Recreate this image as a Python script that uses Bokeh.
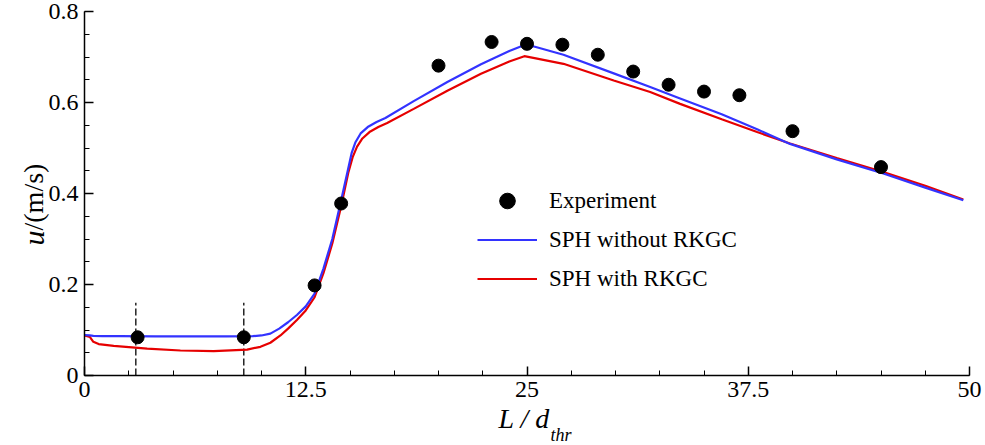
from math import pi

import numpy as np
from bokeh.embed import file_html
from bokeh.models import (CustomJSTickFormatter, FixedTicker, Label, Legend,
                          LegendItem, LinearAxis, Range1d)
from bokeh.plotting import figure
from bokeh.resources import INLINE

# Measured velocity (experiment)
exp_x = [3.0, 9.0, 13.0, 14.5, 20.0, 23.0, 25.0, 27.0, 29.0, 31.0, 33.0, 35.0, 37.0, 40.0, 45.0]
exp_y = [0.084, 0.084, 0.198, 0.378, 0.681, 0.733, 0.729, 0.727, 0.705, 0.668,
         0.639, 0.624, 0.616, 0.537, 0.458]

# SPH without RKGC
blue_x = [0.0, 0.3, 0.5, 1.0, 2.0, 4.0, 6.0, 8.0, 9.5, 10.0, 10.5, 11.0, 11.5, 12.0,
          12.5, 13.0, 13.5, 14.0, 14.5, 14.9, 15.1, 15.3, 15.6, 16.0, 16.5, 17.0,
          18.6, 20.5, 22.4, 24.0, 24.93, 25.5, 27.06, 29.9, 31.96, 33.65, 36.0,
          38.0, 39.86, 42.5, 45.13, 47.5, 49.65]
blue_y = [0.089, 0.088, 0.087, 0.0865, 0.0865, 0.086, 0.0858, 0.0858, 0.0865, 0.088,
          0.092, 0.103, 0.117, 0.133, 0.152, 0.18, 0.235, 0.30, 0.385, 0.455, 0.49,
          0.512, 0.532, 0.546, 0.557, 0.566, 0.603, 0.645, 0.684, 0.713, 0.7275,
          0.722, 0.705, 0.664, 0.634, 0.609, 0.574, 0.541, 0.509, 0.475, 0.444,
          0.413, 0.385]

# SPH with RKGC
red_x = [0.0, 0.3, 0.5, 0.8, 1.65, 3.54, 5.42, 7.3, 9.19, 9.94, 10.5, 11.07, 11.5,
         12.0, 12.5, 13.0, 13.5, 14.0, 14.5, 14.9, 15.15, 15.4, 15.7, 16.1, 16.6,
         17.1, 18.6, 20.5, 22.4, 24.0, 24.85, 25.5, 27.06, 29.9, 31.96, 33.65,
         36.0, 38.0, 39.86, 42.5, 45.13, 47.5, 49.65]
red_y = [0.088, 0.085, 0.074, 0.069, 0.065, 0.059, 0.055, 0.0534, 0.057, 0.063,
         0.072, 0.088, 0.103, 0.122, 0.143, 0.172, 0.225, 0.29, 0.372, 0.445,
         0.48, 0.503, 0.521, 0.535, 0.546, 0.555, 0.586, 0.626, 0.663, 0.690,
         0.7018, 0.697, 0.685, 0.6485, 0.623, 0.597, 0.563, 0.535, 0.510, 0.478,
         0.447, 0.417, 0.387]

# Dashed markers of the probe section
probe_x = [2.9, 9.0]
probe_top = [0.16, 0.16]

x_ticks = [0, 12.5, 25, 37.5, 50]
x_tick_labels = ["0", "12.5", "25", "37.5", "50"]
y_ticks = [0, 0.2, 0.4, 0.6, 0.8]
y_tick_labels = ["0", "0.2", "0.4", "0.6", "0.8"]

SERIF = "Liberation Serif"
BLUE = "#3333ff"
RED = "#e60000"

W, H = 985, 445
PAD_L, PAD_R, PAD_T, PAD_B = 84, 16, 11, 70   # room around the 0..50 x 0..0.8 box
X0, X1, Y0, Y1 = 0.0, 50.0, 0.0, 0.8
sx = (W - PAD_L - PAD_R) / (X1 - X0)
sy = (H - PAD_T - PAD_B) / (Y1 - Y0)

# The frame fills the whole canvas so that the axis titles are not clipped;
# the axes are pinned to x=0 / y=0 and bounded to the data box.
p = figure(width=W, height=H, output_backend="svg", toolbar_location=None,
           x_range=Range1d(X0 - PAD_L / sx, X1 + PAD_R / sx),
           y_range=Range1d(Y0 - PAD_B / sy, Y1 + PAD_T / sy),
           x_axis_location=None, y_axis_location=None,
           min_border_left=0, min_border_right=0, min_border_top=0,
           min_border_bottom=0)
p.outline_line_color = None
p.grid.visible = False
p.background_fill_color = "white"

label_js = """
for (let i = 0; i < tv.length; i++) {
  if (Math.abs(tv[i] - tick) < 1e-9) return tl[i];
}
return "";
"""

xaxis = LinearAxis(fixed_location=Y0, bounds=(X0, X1))
yaxis = LinearAxis(fixed_location=X0, bounds=(Y0, Y1))
for ax, ticks, labels, minor in (
        (xaxis, x_ticks, x_tick_labels, list(np.arange(0, 50.01, 2.5))),
        (yaxis, y_ticks, y_tick_labels, list(np.arange(0, 0.8001, 0.05)))):
    ax.ticker = FixedTicker(ticks=ticks, minor_ticks=minor)
    ax.formatter = CustomJSTickFormatter(args=dict(tv=ticks, tl=labels), code=label_js)
    ax.axis_line_width = 1.5
    ax.axis_line_color = "black"
    ax.major_tick_in = 9
    ax.major_tick_out = 0
    ax.minor_tick_in = 5
    ax.minor_tick_out = 0
    ax.major_tick_line_width = 1.5
    ax.minor_tick_line_width = 1
    ax.major_tick_line_color = "black"
    ax.minor_tick_line_color = "black"
    ax.major_label_text_font = SERIF
    ax.major_label_text_font_size = "24px"
    ax.major_label_text_color = "black"
    ax.major_label_standoff = 6
p.add_layout(xaxis, "below")
p.add_layout(yaxis, "left")

# dashed probe lines
p.segment(x0=probe_x, y0=[0, 0], x1=probe_x, y1=probe_top,
          line_color="black", line_width=1.3, line_dash="7 3")

r_red = p.line(red_x, red_y, line_color=RED, line_width=2.2)
r_blue = p.line(blue_x, blue_y, line_color=BLUE, line_width=2.2)
r_exp = p.scatter(exp_x, exp_y, size=13, fill_color="black", line_color="black")

legend = Legend(items=[
    LegendItem(label="Experiment", renderers=[r_exp]),
    LegendItem(label="SPH without RKGC", renderers=[r_blue]),
    LegendItem(label="SPH with RKGC", renderers=[r_red]),
], location=(477, 147))
legend.padding = 0
legend.margin = 0
legend.spacing = 0
legend.glyph_width = 60
legend.glyph_height = 39
legend.label_height = 39
legend.label_standoff = 12
legend.label_text_font = SERIF
legend.label_text_font_size = "23px"
legend.label_text_color = "black"
legend.border_line_color = None
legend.background_fill_alpha = 0
p.add_layout(legend, "center")


def title_piece(x, y, text, size, italic=False, angle=0.0):
    # axis title fragments, in pixels from the canvas's lower-left corner
    return Label(x=x, y=y, x_units="screen", y_units="screen", text=text,
                 angle=angle, text_align="left", text_baseline="alphabetic",
                 text_font=SERIF, text_font_style="italic" if italic else "normal",
                 text_font_size=size, text_color="black")


p.add_layout(title_piece(33, 200, "u", "30px", italic=True, angle=pi / 2))
p.add_layout(title_piece(33, 215, "/(m/s)", "28px", angle=pi / 2))
p.add_layout(title_piece(498, 27, "L / d", "28px", italic=True))
p.add_layout(title_piece(550, 11, "thr", "18px", italic=True))

open("out.html", "w").write(file_html(p, INLINE))
